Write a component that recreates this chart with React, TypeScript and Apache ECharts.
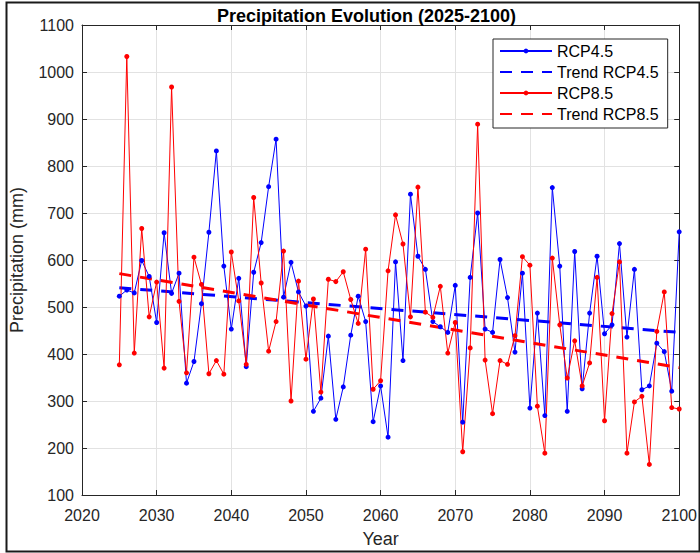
import React, { useEffect, useRef } from "react";
import * as echarts from "echarts";

const years = [
  2025, 2026, 2027, 2028, 2029, 2030, 2031, 2032, 2033, 2034, 2035, 2036, 2037, 2038, 2039,
  2040, 2041, 2042, 2043, 2044, 2045, 2046, 2047, 2048, 2049, 2050, 2051, 2052, 2053, 2054,
  2055, 2056, 2057, 2058, 2059, 2060, 2061, 2062, 2063, 2064, 2065, 2066, 2067, 2068, 2069,
  2070, 2071, 2072, 2073, 2074, 2075, 2076, 2077, 2078, 2079, 2080, 2081, 2082, 2083, 2084,
  2085, 2086, 2087, 2088, 2089, 2090, 2091, 2092, 2093, 2094, 2095, 2096, 2097, 2098, 2099,
  2100,
];

const rcp45 = [
  523, 536, 530, 599, 565, 467, 658, 529, 572, 338, 384, 507, 659, 832, 587,
  453, 561, 373, 574, 637, 756, 857, 521, 595, 532, 502, 278, 306, 438, 261,
  330, 440, 523, 469, 256, 332, 223, 596, 386, 740, 608, 580, 469, 458, 446,
  546, 255, 563, 700, 453, 446, 601, 520, 404, 572, 285, 487, 269, 754, 587,
  278, 618, 326, 487, 608, 443, 462, 635, 436, 580, 324, 332, 423, 405, 321,
  660,
];

const rcp85 = [
  377, 1033, 402, 667, 479, 553, 370, 968, 512, 360, 606, 548, 358, 386, 357,
  617, 513, 378, 733, 551, 406, 469, 619, 300, 555, 389, 517, 319, 559, 554,
  575, 516, 465, 623, 325, 343, 577, 696, 634, 479, 755, 489, 478, 544, 402,
  467, 192, 413, 889, 387, 273, 386, 378, 439, 607, 589, 289, 189, 604, 462,
  349, 428, 332, 381, 563, 258, 486, 596, 189, 298, 310, 165, 448, 532, 286,
  283,
];

const trendYears = [2025, 2100];
const trend45 = [541, 446];
const trend85 = [571, 371];

const FONT = "'Liberation Sans', Arial, Helvetica, sans-serif";
const AXIS_COLOR = "#262626";
const GRID_COLOR = "#e2e2e2";

export default function App() {
  const ref = useRef<HTMLDivElement>(null);

  useEffect(() => {
    document.body.style.margin = "0";
    if (!ref.current) return;
    const chart = echarts.init(ref.current, undefined, { renderer: "svg" });

    const pair = (xs: number[], ys: number[]) => xs.map((x, i) => [x, ys[i]]);

    const hiddenAxisCommon = {
      axisLabel: { show: false },
      axisLine: { show: true, lineStyle: { color: AXIS_COLOR, width: 1 } },
      axisTick: { show: true, inside: true, length: 5, lineStyle: { color: AXIS_COLOR } },
      splitLine: { show: false },
    };

    chart.setOption({
      animation: false,
      backgroundColor: "#ffffff",
      textStyle: { fontFamily: FONT },
      title: {
        text: "Precipitation Evolution (2025-2100)",
        left: 212,
        top: 2,
        textStyle: { fontFamily: FONT, fontSize: 18, fontWeight: "bold", color: "#000" },
      },
      grid: { left: 82, right: 19, top: 25, bottom: 56, containLabel: false },
      legend: {
        orient: "vertical",
        left: 493,
        top: 39,
        itemWidth: 52,
        itemHeight: 6,
        itemGap: 5,
        padding: [4, 9, 6, 6],
        borderColor: AXIS_COLOR,
        borderWidth: 1,
        backgroundColor: "#ffffff",
        textStyle: { fontFamily: FONT, fontSize: 16, color: "#000" },
        data: [
          { name: "RCP4.5" },
          { name: "Trend RCP4.5", itemStyle: { color: "rgba(0,0,0,0)", opacity: 0 } },
          { name: "RCP8.5" },
          { name: "Trend RCP8.5", itemStyle: { color: "rgba(0,0,0,0)", opacity: 0 } },
        ],
      },
      xAxis: [
        {
          type: "value",
          min: 2020,
          max: 2100,
          interval: 10,
          position: "bottom",
          name: "Year",
          nameLocation: "middle",
          nameGap: 35,
          nameTextStyle: { fontFamily: FONT, fontSize: 18, color: AXIS_COLOR },
          axisLine: { show: true, lineStyle: { color: AXIS_COLOR, width: 1 } },
          axisTick: { show: true, inside: true, length: 5, lineStyle: { color: AXIS_COLOR } },
          axisLabel: {
            fontFamily: FONT,
            fontSize: 16,
            color: AXIS_COLOR,
            margin: 12,
            formatter: (v: number) => String(v),
          },
          splitLine: { show: true, lineStyle: { color: GRID_COLOR, width: 1 } },
        },
        {
          type: "value",
          min: 2020,
          max: 2100,
          interval: 10,
          position: "top",
          ...hiddenAxisCommon,
        },
      ],
      yAxis: [
        {
          type: "value",
          min: 100,
          max: 1100,
          interval: 100,
          position: "left",
          name: "Precipitation (mm)",
          nameLocation: "middle",
          nameGap: 56,
          nameTextStyle: { fontFamily: FONT, fontSize: 18, color: AXIS_COLOR },
          axisLine: { show: true, lineStyle: { color: AXIS_COLOR, width: 1 } },
          axisTick: { show: true, inside: true, length: 5, lineStyle: { color: AXIS_COLOR } },
          axisLabel: {
            fontFamily: FONT,
            fontSize: 16,
            color: AXIS_COLOR,
            margin: 8,
            formatter: (v: number) => String(v),
          },
          splitLine: { show: true, lineStyle: { color: GRID_COLOR, width: 1 } },
        },
        {
          type: "value",
          min: 100,
          max: 1100,
          interval: 100,
          position: "right",
          ...hiddenAxisCommon,
        },
      ],
      series: [
        {
          name: "RCP4.5",
          type: "line",
          xAxisIndex: 0,
          yAxisIndex: 0,
          data: pair(years, rcp45),
          symbol: "circle",
          symbolSize: 5,
          showSymbol: true,
          itemStyle: { color: "#0000ff" },
          lineStyle: { color: "#0000ff", width: 1 },
        },
        {
          name: "Trend RCP4.5",
          type: "line",
          xAxisIndex: 0,
          yAxisIndex: 0,
          data: pair(trendYears, trend45),
          symbol: "none",
          itemStyle: { color: "#0000ff" },
          lineStyle: { color: "#0000ff", width: 3, type: [12, 9] },
        },
        {
          name: "RCP8.5",
          type: "line",
          xAxisIndex: 0,
          yAxisIndex: 0,
          data: pair(years, rcp85),
          symbol: "circle",
          symbolSize: 5,
          showSymbol: true,
          itemStyle: { color: "#ff0000" },
          lineStyle: { color: "#ff0000", width: 1 },
        },
        {
          name: "Trend RCP8.5",
          type: "line",
          xAxisIndex: 0,
          yAxisIndex: 0,
          data: pair(trendYears, trend85),
          symbol: "none",
          itemStyle: { color: "#ff0000" },
          lineStyle: { color: "#ff0000", width: 3, type: [12, 9] },
        },
      ],
      graphic: [
        {
          type: "rect",
          left: 4,
          top: 0,
          shape: { x: 0, y: 0, width: 693, height: 549 },
          style: { fill: "none", stroke: "#1a1a1a", lineWidth: 2 },
          silent: true,
          z: 100,
        },
      ],
    });

    return () => chart.dispose();
  }, []);

  return <div ref={ref} style={{ width: 700, height: 553 }} />;
}
